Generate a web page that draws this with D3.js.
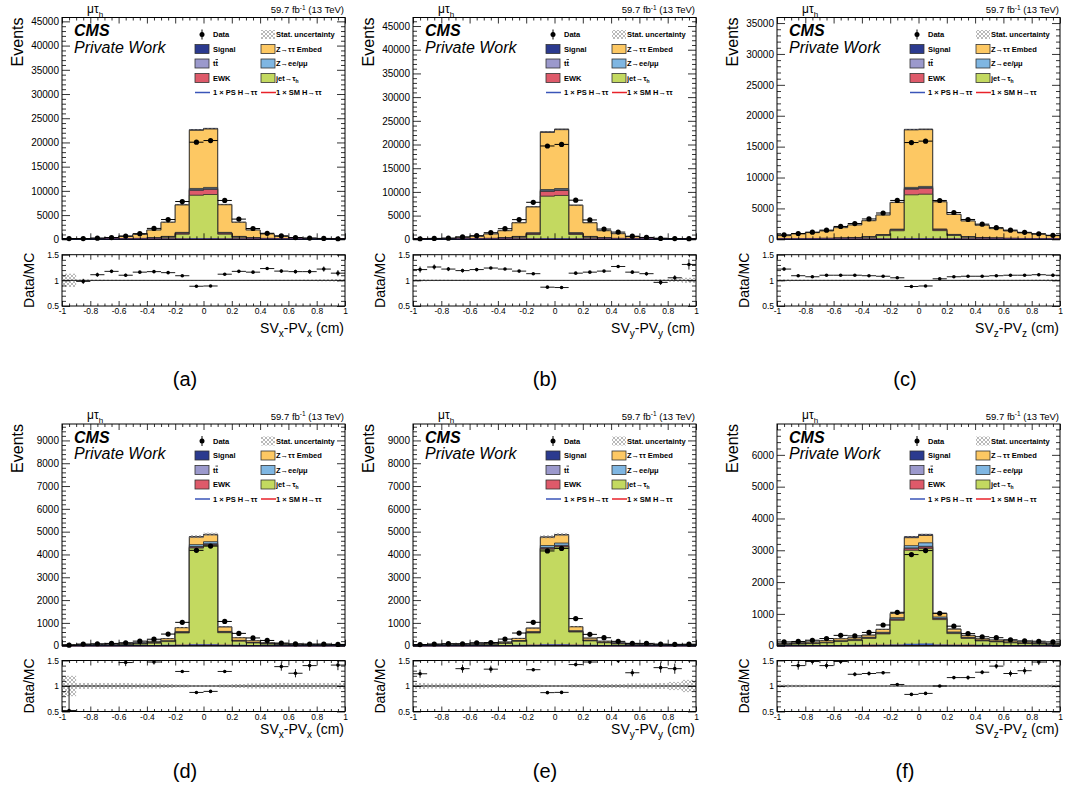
<!DOCTYPE html>
<html><head><meta charset="utf-8">
<script src="https://cdn.jsdelivr.net/npm/d3@7"></script>
<style>
body{margin:0;background:#fff;}
svg text{font-family:"Liberation Sans",Arial,Helvetica,sans-serif;}
</style></head><body>
<svg id="c" width="1070" height="805"></svg>
<script>
// ---------------- data ----------------
const edges = [-1,-0.9,-0.8,-0.7,-0.6,-0.5,-0.4,-0.3,-0.2,-0.1,0,0.1,0.2,0.3,0.4,0.5,0.6,0.7,0.8,0.9,1];
const xTicks = [-1,-0.8,-0.6,-0.4,-0.2,0,0.2,0.4,0.6,0.8,1];
const ratioTicks = [0.5,1,1.5];
const axisVars = ['x','y','z','x','y','z'];
const captions = ['(a)','(b)','(c)','(d)','(e)','(f)'];

// (a) SVx-PVx, selection 1
const jetA = [20,25,35,50,80,130,220,420,1050,9100,9250,1050,420,220,130,80,50,35,25,20];
const ewkA = [5,5,8,10,15,25,40,80,200,1000,1050,200,80,40,25,15,10,8,5,5];
const ttA  = [3,3,4,5,8,12,20,30,60,150,150,60,30,20,12,8,5,4,3,3];
const zllA = [5,6,8,10,15,25,40,70,120,250,260,120,70,40,25,15,10,8,6,5];
const zttA = [65,110,150,225,480,800,1580,2900,5650,12000,12050,5700,2900,1580,900,480,225,150,110,65];
const sigA = [2,2,3,5,8,15,25,50,80,150,150,80,50,25,15,8,5,3,2,2];
const dataA = [160,150,230,360,670,1170,2250,4080,7800,20050,20390,8020,4170,2230,1240,715,357,243,184,114];
const ratioA = [null,0.98,1.11,1.175,1.10,1.16,1.17,1.15,1.09,0.885,0.89,1.12,1.175,1.16,1.23,1.18,1.17,1.17,1.22,1.14];
const rErrA = [0,0.05,0.04,0.03,0.03,0.02,0.02,0.015,0.01,0.006,0.006,0.01,0.015,0.02,0.02,0.03,0.035,0.04,0.05,0.06];
const statA = [0.13,0.02,0.015,0.012,0.01,0.008,0.006,0.005,0.004,0.003,0.003,0.004,0.005,0.006,0.008,0.01,0.012,0.015,0.02,0.025];
const psA = [4,5,6,8,10,14,20,30,45,70,72,45,30,20,14,10,8,6,5,4];
const smA = [3,4,5,6,8,11,16,24,36,56,58,36,24,16,11,8,6,5,4,3];

// (b) SVy-PVy, selection 1
const jetB = [20,25,35,60,85,140,230,430,1000,9100,9250,1020,430,230,140,75,50,30,25,20];
const ewkB = [5,5,8,12,15,25,40,80,200,1000,1050,200,80,40,25,15,10,8,5,5];
const ttB  = [3,3,4,6,8,12,20,30,60,150,150,60,30,20,12,8,5,4,3,3];
const zllB = [5,6,8,12,15,25,40,70,120,250,260,120,70,40,25,15,10,8,6,5];
const zttB = [65,110,140,325,500,910,1475,2860,5430,12060,12420,5760,2860,1475,980,440,270,150,110,65];
const sigB = [2,2,3,5,8,15,25,50,80,150,150,80,50,25,15,8,5,3,2,2];
const dataB = [121,189,244,499,762,1395,2233,4154,7806,19690,20020,8254,4083,2159,1520,650,394,192,158,131];
const ratioB = [1.21,1.26,1.22,1.19,1.21,1.24,1.22,1.18,1.13,0.867,0.86,1.14,1.16,1.18,1.27,1.16,1.13,0.96,1.05,1.31];
const rErrB = [0.06,0.05,0.04,0.035,0.03,0.02,0.02,0.015,0.01,0.006,0.006,0.01,0.015,0.02,0.02,0.03,0.035,0.05,0.05,0.1];
const statB = [0.02,0.015,0.012,0.01,0.008,0.006,0.005,0.004,0.003,0.003,0.003,0.003,0.004,0.005,0.006,0.008,0.01,0.02,0.03,0.05];
const psB = [4,5,6,8,10,14,20,30,45,70,72,45,30,20,14,10,8,6,5,4];
const smB = [3,4,5,6,8,11,16,24,36,56,58,36,24,16,11,8,6,5,4,3];

// (c) SVz-PVz, selection 1
const jetC = [60,80,100,120,160,220,330,600,1380,7200,7300,1400,620,330,220,160,120,100,80,60];
const ewkC = [8,10,12,15,20,30,45,80,130,900,950,140,80,45,30,20,15,12,10,8];
const ttC  = [5,6,8,10,12,15,20,30,45,120,120,45,30,20,15,12,10,8,6,5];
const zllC = [10,12,15,18,25,30,40,60,90,180,190,90,60,40,30,25,18,15,12,10];
const zttC = [505,750,940,1180,1665,2015,2570,3145,4305,9300,9190,4385,3235,2520,1965,1505,1180,885,700,505];
const sigC = [3,4,5,6,8,10,15,25,40,100,100,40,25,15,10,8,6,5,4,3];
const dataC = [720,937,1156,1485,2079,2552,3292,4255,6290,15660,15890,6283,4334,3208,2452,1886,1485,1128,899,649];
const ratioC = [1.22,1.09,1.07,1.10,1.10,1.10,1.09,1.08,1.05,0.88,0.89,1.03,1.07,1.08,1.08,1.09,1.10,1.10,1.11,1.10];
const rErrC = [0.03,0.025,0.02,0.02,0.015,0.015,0.012,0.01,0.01,0.005,0.005,0.01,0.01,0.012,0.015,0.015,0.02,0.02,0.025,0.03];
const statC = [0.02,0.015,0.012,0.01,0.01,0.008,0.007,0.006,0.005,0.003,0.003,0.005,0.006,0.007,0.008,0.01,0.01,0.012,0.015,0.02];
const psC = [6,7,8,10,12,15,20,28,40,65,66,40,28,20,15,12,10,8,7,6];
const smC = [5,6,7,8,10,12,16,22,32,52,53,32,22,16,12,10,8,7,6,5];

// (d) SVx-PVx, selection 2
const jetD = [20,25,30,35,50,70,110,180,560,4280,4400,570,200,120,70,45,35,30,25,20];
const ewkD = [3,3,3,4,5,6,8,12,20,40,40,20,12,8,6,5,4,3,3,3];
const ttD  = [2,2,2,3,3,4,5,8,12,30,30,12,8,5,4,3,3,2,2,2];
const zllD = [3,3,4,5,6,8,10,15,25,80,90,25,15,10,8,6,5,4,3,3];
const zttD = [10,10,12,15,22,35,55,90,170,330,300,190,110,70,40,22,15,12,10,10];
const sigD = [2,2,2,2,3,4,5,8,10,25,25,10,8,5,4,3,2,2,2,2];
const dataD = [21,72,85,100,130,200,284,510,1024,4182,4367,1063,540,340,230,116,80,74,75,56];
const ratioD = [0.52,null,null,null,1.46,null,1.47,null,1.285,0.874,0.894,1.285,null,null,null,1.38,1.25,1.40,null,1.41];
const rErrD = [0.48,0,0,0,0.07,0,0.05,0,0.03,0.01,0.01,0.03,0,0,0,0.08,0.08,0.1,0,0.1];
const statD = [0.2,0.06,0.06,0.06,0.06,0.05,0.05,0.04,0.03,0.015,0.015,0.03,0.04,0.05,0.05,0.06,0.06,0.06,0.06,0.06];
const psD = [2,2,3,3,4,5,6,8,12,30,32,12,8,6,5,4,3,3,2,2];
const smD = [1,2,2,3,3,4,5,6,10,24,25,10,6,5,4,3,3,2,2,1];

// (e) SVy-PVy, selection 2
const jetE = [20,25,30,35,45,60,100,190,560,4230,4330,600,210,130,75,45,35,30,25,20];
const ewkE = [3,3,3,4,5,6,8,12,20,40,40,20,12,8,6,5,4,3,3,3];
const ttE  = [2,2,2,3,3,4,5,8,12,30,30,12,8,5,4,3,3,2,2,2];
const zllE = [3,3,4,5,6,8,10,15,25,90,100,25,15,10,8,6,5,4,3,3];
const zttE = [10,10,12,15,20,22,35,90,150,360,350,170,85,40,30,20,15,12,10,10];
const sigE = [2,2,2,2,3,4,5,8,10,25,25,10,8,5,4,3,2,2,2,2];
const dataE = [50,75,90,86,130,138,290,555,1026,4154,4266,1189,497,350,190,103,100,72,60,65];
const ratioE = [1.24,null,null,1.34,null,1.33,null,null,1.32,0.87,0.875,1.42,1.47,null,1.50,1.26,null,1.36,1.34,null];
const rErrE = [0.08,0,0,0.08,0,0.07,0,0,0.03,0.01,0.01,0.03,0.04,0,0.05,0.07,0,0.1,0.1,0];
const statE = [0.06,0.05,0.05,0.05,0.05,0.04,0.04,0.035,0.03,0.015,0.015,0.03,0.035,0.04,0.04,0.05,0.05,0.06,0.08,0.12];
const psE = [2,2,3,3,4,5,6,8,12,30,32,12,8,6,5,4,3,3,2,2];
const smE = [1,2,2,3,3,4,5,6,10,24,25,10,6,5,4,3,3,2,2,1];

// (f) SVz-PVz, selection 2
const jetF = [40,50,65,90,130,160,230,370,800,3000,3050,820,380,230,150,120,90,65,50,40];
const ewkF = [3,4,5,6,8,10,12,18,30,50,50,30,18,12,10,8,6,5,4,3];
const ttF  = [2,2,3,3,4,5,6,8,12,25,25,12,8,6,5,4,3,3,2,2];
const zllF = [5,6,8,10,12,15,18,25,40,70,110,40,25,18,15,12,10,8,6,5];
const zttF = [22,30,32,48,62,55,64,90,130,250,230,110,90,55,38,34,38,32,30,22];
const sigF = [3,3,3,3,4,5,5,6,8,35,35,8,6,5,4,3,3,3,3,3];
const dataF = [120,133,172,224,325,308,417,651,1050,2865,2990,1020,614,380,282,252,187,151,140,120];
const ratioF = [null,1.40,1.48,1.40,1.48,1.23,1.245,1.26,1.03,0.835,0.855,1.0,1.165,1.165,1.27,1.39,1.245,1.30,1.47,null];
const rErrF = [0,0.08,0.06,0.06,0.05,0.04,0.04,0.03,0.02,0.01,0.01,0.02,0.03,0.04,0.04,0.05,0.06,0.07,0.06,0];
const statF = [0.03,0.025,0.02,0.02,0.02,0.02,0.015,0.015,0.01,0.006,0.006,0.01,0.015,0.015,0.02,0.02,0.02,0.025,0.025,0.03];
const psF = [3,3,3,4,5,6,8,10,15,42,45,15,10,8,6,5,4,3,3,3];
const smF = [2,2,3,3,4,5,6,8,12,33,35,12,8,6,5,4,3,3,2,2];

// ---------------- layout ----------------
const W = 283;
const rows = [
  {T:17.5, B:239.3, RT:254.7, RB:306, xlab:333, cap:386},
  {T:424,  B:645.7, RT:660.5, RB:711.5, xlab:734, cap:778}
];
const colL = [62, 413, 777];
const capX = [185, 545, 905];
const panels = [
  {row:0,col:0,yMax:45800,yMaj:5000,yMin:1000,jet:jetA,ewk:ewkA,tt:ttA,zll:zllA,ztt:zttA,sig:sigA,data:dataA,ratio:ratioA,rErr:rErrA,stat:statA,ps:psA,sm:smA},
  {row:0,col:1,yMax:46800,yMaj:5000,yMin:1000,jet:jetB,ewk:ewkB,tt:ttB,zll:zllB,ztt:zttB,sig:sigB,data:dataB,ratio:ratioB,rErr:rErrB,stat:statB,ps:psB,sm:smB},
  {row:0,col:2,yMax:35900,yMaj:5000,yMin:1000,jet:jetC,ewk:ewkC,tt:ttC,zll:zllC,ztt:zttC,sig:sigC,data:dataC,ratio:ratioC,rErr:rErrC,stat:statC,ps:psC,sm:smC},
  {row:1,col:0,yMax:9720,yMaj:1000,yMin:200,jet:jetD,ewk:ewkD,tt:ttD,zll:zllD,ztt:zttD,sig:sigD,data:dataD,ratio:ratioD,rErr:rErrD,stat:statD,ps:psD,sm:smD},
  {row:1,col:1,yMax:9720,yMaj:1000,yMin:200,jet:jetE,ewk:ewkE,tt:ttE,zll:zllE,ztt:zttE,sig:sigE,data:dataE,ratio:ratioE,rErr:rErrE,stat:statE,ps:psE,sm:smE},
  {row:1,col:2,yMax:6970,yMaj:1000,yMin:200,jet:jetF,ewk:ewkF,tt:ttF,zll:zllF,ztt:zttF,sig:sigF,data:dataF,ratio:ratioF,rErr:rErrF,stat:statF,ps:psF,sm:smF}
];
const colors = {jet:'#c3d960', ewk:'#de5a6a', tt:'#9b99cc', zll:'#7fb6e2', ztt:'#fdc863', sig:'#2b3a8f'};
const psColor = '#3a55b8', smColor = '#e8222a';
const stackKeys = ['jet','ewk','tt','zll','ztt','sig'];

const svg = d3.select('#c');
const defs = svg.append('defs');
const pat = defs.append('pattern').attr('id','hatch').attr('patternUnits','userSpaceOnUse').attr('width',4).attr('height',4);
pat.append('path').attr('d','M-1,1 L1,-1 M0,4 L4,0 M3,5 L5,3 M-1,3 L1,5 M0,0 L4,4 M3,-1 L5,1')
  .attr('stroke','#8a8a8a').attr('stroke-width',0.6).attr('fill','none');

const minorX = d3.range(-20, 21).map(v => +(v*0.05).toFixed(2)).filter(v => !xTicks.some(t => Math.abs(t-v) < 1e-9));
const fmtX = d => d3.format('~g')(d).replace('\u2212','-');

function styleAxis(gg, size){
  gg.attr('font-family','"Liberation Sans",Arial,sans-serif').attr('font-size',size);
  gg.select('.domain').remove();
  gg.selectAll('line').attr('stroke','#000').attr('stroke-width',0.8);
  gg.selectAll('text').attr('fill','#000');
}
function addAxis(gen, vals, len, fmt, tx, ty, fsize, pad){
  const a = gen.tickValues(vals).tickSizeInner(-len).tickSizeOuter(0).tickPadding(pad||3)
    .tickFormat(fmt ? fmt : () => '');
  const gg = svg.append('g').attr('transform',`translate(${tx},${ty})`).call(a);
  styleAxis(gg, fsize||10);
  return gg;
}

panels.forEach((p, pi) => {
  const r = rows[p.row];
  const L = colL[p.col], R = L + W;
  const x = d3.scaleLinear().domain([-1,1]).range([L,R]);
  const y = d3.scaleLinear().domain([0,p.yMax]).range([r.B,r.T]);
  const yr = d3.scaleLinear().domain([0.5,1.5]).range([r.RB,r.RT]);
  const centers = edges.slice(0,20).map((e,i) => (e+edges[i+1])/2);

  defs.append('clipPath').attr('id','cm'+pi).append('rect').attr('x',L).attr('y',r.T).attr('width',W).attr('height',r.B-r.T+1);
  defs.append('clipPath').attr('id','cr'+pi).append('rect').attr('x',L).attr('y',r.RT).attr('width',W).attr('height',r.RB-r.RT);

  const mg = svg.append('g').attr('clip-path',`url(#cm${pi})`);
  // stack
  let run = centers.map(() => 0);
  const layers = stackKeys.map(k => { run = run.map((v,i) => v + p[k][i]); return {k, vals: run}; });
  const pts = vals => edges.map((e,i) => [e, vals[Math.min(i,19)]]);
  const area = d3.area().curve(d3.curveStepAfter).x(d => x(d[0])).y0(y(0)).y1(d => y(d[1]));
  layers.slice().reverse().forEach(l => {
    mg.append('path').attr('d', area(pts(l.vals))).attr('fill', colors[l.k])
      .attr('stroke','#2a2a2a').attr('stroke-width',0.8);
  });
  const total = layers[layers.length-1].vals;
  // stat uncertainty
  total.forEach((t,i) => {
    const y1 = y(t*(1+p.stat[i])), y0 = y(t*(1-p.stat[i]));
    mg.append('rect').attr('x',x(edges[i])).attr('width',x(edges[i+1])-x(edges[i]))
      .attr('y',y1).attr('height',Math.max(0.5,y0-y1)).attr('fill','url(#hatch)');
  });
  // signal lines
  const line = d3.line().curve(d3.curveStepAfter).x(d => x(d[0])).y(d => y(d[1]));
  mg.append('path').attr('d', line(pts(p.sm))).attr('fill','none').attr('stroke',smColor).attr('stroke-width',1.3);
  mg.append('path').attr('d', line(pts(p.ps))).attr('fill','none').attr('stroke',psColor).attr('stroke-width',1.3);

  // data points
  const dg = svg.append('g');
  p.data.forEach((d,i) => {
    const cx = x(centers[i]), cy = y(d), e = Math.sqrt(d);
    dg.append('line').attr('x1',x(edges[i])).attr('x2',x(edges[i+1])).attr('y1',cy).attr('y2',cy).attr('stroke','#000').attr('stroke-width',1);
    dg.append('line').attr('x1',cx).attr('x2',cx).attr('y1',y(d+e)).attr('y2',y(Math.max(0,d-e))).attr('stroke','#000').attr('stroke-width',1);
    dg.append('circle').attr('cx',cx).attr('cy',cy).attr('r',2.6).attr('fill','#000');
  });

  // main frame and axes
  const yMajor = d3.range(0, p.yMax+1, p.yMaj);
  const yMinor = d3.range(0, p.yMax, p.yMin).filter(v => v % p.yMaj !== 0);
  addAxis(d3.axisLeft(y), yMajor, 8, d3.format('d'), L, 0, 10, 3);
  addAxis(d3.axisLeft(y), yMinor, 4, null, L, 0);
  addAxis(d3.axisRight(y), yMajor, 8, null, R, 0);
  addAxis(d3.axisRight(y), yMinor, 4, null, R, 0);
  addAxis(d3.axisTop(x), xTicks, 6, null, 0, r.T);
  addAxis(d3.axisTop(x), minorX, 3, null, 0, r.T);
  addAxis(d3.axisBottom(x), xTicks, 6, null, 0, r.B);
  addAxis(d3.axisBottom(x), minorX, 3, null, 0, r.B);
  svg.append('rect').attr('x',L).attr('y',r.T).attr('width',W).attr('height',r.B-r.T)
    .attr('fill','none').attr('stroke','#000').attr('stroke-width',1);

  // ratio panel
  const rg = svg.append('g').attr('clip-path',`url(#cr${pi})`);
  p.stat.forEach((u,i) => {
    rg.append('rect').attr('x',x(edges[i])).attr('width',x(edges[i+1])-x(edges[i]))
      .attr('y',yr(1+u)).attr('height',Math.max(0.5,yr(1-u)-yr(1+u))).attr('fill','url(#hatch)');
  });
  rg.append('line').attr('x1',L).attr('x2',R).attr('y1',yr(1)).attr('y2',yr(1)).attr('stroke','#000').attr('stroke-width',0.9);
  p.ratio.forEach((v,i) => {
    if (v === null) return;
    const cx = x(centers[i]), cy = yr(v), e = p.rErr[i];
    rg.append('line').attr('x1',x(edges[i])).attr('x2',x(edges[i+1])).attr('y1',cy).attr('y2',cy).attr('stroke','#000').attr('stroke-width',0.9);
    rg.append('line').attr('x1',cx).attr('x2',cx).attr('y1',yr(v+e)).attr('y2',yr(v-e)).attr('stroke','#000').attr('stroke-width',0.9);
    rg.append('circle').attr('cx',cx).attr('cy',cy).attr('r',1.8).attr('fill','#000');
  });
  const rMinor = d3.range(5,16).map(v => v/10).filter(v => !ratioTicks.includes(v));
  addAxis(d3.axisLeft(yr), ratioTicks, 8, d3.format('~g'), L, 0, 8.5, 3);
  addAxis(d3.axisLeft(yr), rMinor, 4, null, L, 0);
  addAxis(d3.axisRight(yr), ratioTicks, 8, null, R, 0);
  addAxis(d3.axisRight(yr), rMinor, 4, null, R, 0);
  addAxis(d3.axisBottom(x), xTicks, 5, fmtX, 0, r.RB, 8.5, 2);
  addAxis(d3.axisBottom(x), minorX, 2.5, null, 0, r.RB);
  addAxis(d3.axisTop(x), xTicks, 5, null, 0, r.RT);
  addAxis(d3.axisTop(x), minorX, 2.5, null, 0, r.RT);
  svg.append('rect').attr('x',L).attr('y',r.RT).attr('width',W).attr('height',r.RB-r.RT)
    .attr('fill','none').attr('stroke','#000').attr('stroke-width',1);

  // axis titles
  svg.append('text').attr('transform',`translate(${L-39},${r.T}) rotate(-90)`).attr('text-anchor','end')
    .attr('font-size',16).text('Events');
  svg.append('text').attr('transform',`translate(${L-28},${(r.RT+r.RB)/2}) rotate(-90)`).attr('text-anchor','middle')
    .attr('font-size',14).text('Data/MC');
  const v = axisVars[pi];
  const xl = svg.append('text').attr('x',R-1).attr('y',r.xlab).attr('text-anchor','end').attr('font-size',14);
  xl.append('tspan').text('SV');
  xl.append('tspan').attr('font-size',10).attr('dy',3.5).text(v);
  xl.append('tspan').attr('dy',-3.5).text('-PV');
  xl.append('tspan').attr('font-size',10).attr('dy',3.5).text(v);
  xl.append('tspan').attr('dy',-3.5).text(' (cm)');

  // top labels
  const ch = svg.append('text').attr('x',L+25).attr('y',r.T-5).attr('font-size',12);
  ch.append('tspan').text('\u03bc\u03c4');
  ch.append('tspan').attr('font-size',8).attr('dy',4).text('h');
  const lu = svg.append('text').attr('x',R-1).attr('y',r.T-4.5).attr('text-anchor','end').attr('font-size',9.5);
  lu.append('tspan').text('59.7 fb');
  lu.append('tspan').attr('font-size',6.5).attr('dy',-3.5).text('-1');
  lu.append('tspan').attr('dy',3.5).text(' (13 TeV)');
  svg.append('text').attr('x',L+12).attr('y',r.T+18.5).attr('font-size',16).attr('font-weight','bold').attr('font-style','italic').text('CMS');
  svg.append('text').attr('x',L+12).attr('y',r.T+35).attr('font-size',16).attr('font-style','italic').text('Private Work');

  // legend
  const legY = [17, 31.5, 46, 60.5, 75].map(d => r.T + d);
  const c1 = L+133, c2 = L+199, t1 = L+151, t2 = L+214;
  const lt = (xx, yy) => svg.append('text').attr('x',xx).attr('y',yy+2.7).attr('font-size',7.5).attr('font-weight','bold');
  // Data
  svg.append('line').attr('x1',c1+7).attr('x2',c1+7).attr('y1',legY[0]-5).attr('y2',legY[0]+5).attr('stroke','#000').attr('stroke-width',1);
  svg.append('circle').attr('cx',c1+7).attr('cy',legY[0]).attr('r',2.5).attr('fill','#000');
  lt(t1, legY[0]).text('Data');
  svg.append('rect').attr('x',c2).attr('y',legY[0]-4.5).attr('width',14).attr('height',9).attr('fill','url(#hatch)');
  lt(t2, legY[0]).text('Stat. uncertainty');
  const sw = (xx, yy, col) => svg.append('rect').attr('x',xx).attr('y',yy-4.5).attr('width',14).attr('height',9)
      .attr('fill',col).attr('stroke','#333').attr('stroke-width',0.8);
  sw(c1, legY[1], colors.sig); lt(t1, legY[1]).text('Signal');
  sw(c2, legY[1], colors.ztt); lt(t2, legY[1]).text('Z\u2192\u03c4\u03c4 Embed');
  sw(c1, legY[2], colors.tt);
  const ttl = lt(t1, legY[2]); ttl.append('tspan').text('t'); ttl.append('tspan').attr('text-decoration','overline').text('t');
  sw(c2, legY[2], colors.zll); lt(t2, legY[2]).text('Z\u2192ee/\u03bc\u03bc');
  sw(c1, legY[3], colors.ewk); lt(t1, legY[3]).text('EWK');
  sw(c2, legY[3], colors.jet);
  const jl = lt(t2, legY[3]); jl.append('tspan').text('jet\u2192\u03c4'); jl.append('tspan').attr('font-size',5).attr('dy',2).text('h');
  svg.append('line').attr('x1',c1).attr('x2',c1+15).attr('y1',legY[4]).attr('y2',legY[4]).attr('stroke',psColor).attr('stroke-width',1.5);
  lt(t1, legY[4]).text('1 \u00d7 PS H\u2192\u03c4\u03c4');
  svg.append('line').attr('x1',c2).attr('x2',c2+15).attr('y1',legY[4]).attr('y2',legY[4]).attr('stroke',smColor).attr('stroke-width',1.5);
  lt(t2, legY[4]).text('1 \u00d7 SM H\u2192\u03c4\u03c4');

  // caption
  svg.append('text').attr('x',capX[p.col]).attr('y',r.cap).attr('text-anchor','middle')
    .attr('font-family','"Liberation Serif","Times New Roman",serif').attr('font-size',20).text(captions[pi]);
});
</script>
</body></html>
